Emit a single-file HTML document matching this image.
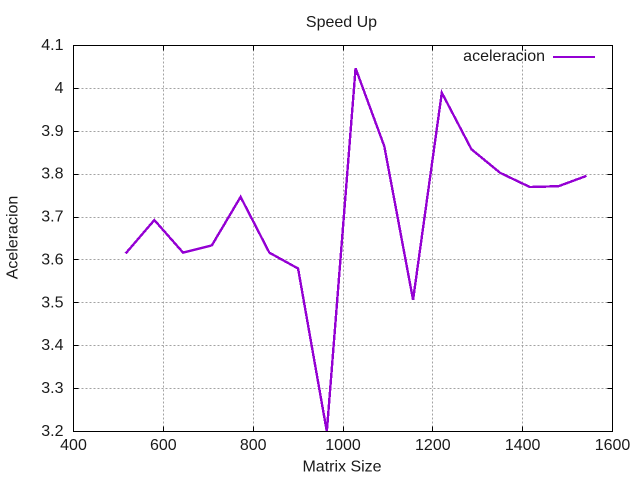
<!DOCTYPE html>
<html>
<head>
<meta charset="utf-8">
<style>
html,body{margin:0;padding:0;background:#fff;width:640px;height:480px;overflow:hidden}
svg{display:block}
text{font-family:"Liberation Sans",sans-serif;fill:#1a1a1a;font-size:16px}
</style>
</head>
<body>
<svg id="chart" width="640" height="480" viewBox="0 0 640 480" xmlns="http://www.w3.org/2000/svg">
<rect width="640" height="480" fill="#fff"/>
<text x="341.5" y="27" text-anchor="middle">Speed Up</text>
<text x="342" y="471.5" text-anchor="middle">Matrix Size</text>
<text transform="translate(17.5,237.5) rotate(-90)" text-anchor="middle">Aceleracion</text>
<g id="grid"></g>
<g id="ticks"></g>
<g id="labels"></g>
<clipPath id="plot-clip"><rect x="73" y="45" width="540" height="387"/></clipPath>
<polyline id="series" fill="none" stroke="#9400d3" stroke-width="2.4" stroke-linejoin="miter" shape-rendering="crispEdges" clip-path="url(#plot-clip)"></polyline>
<rect x="73.5" y="45.5" width="539" height="386" fill="none" stroke="#000" stroke-width="1"/>
<text x="545" y="61" text-anchor="end">aceleracion</text>
<line x1="553" y1="57" x2="595" y2="57" stroke="#9400d3" stroke-width="2"/>
</svg>
<script>
const matrixSizes = [516,580,644,708,772,836,900,964,1028,1092,1156,1220,1286,1350,1416,1480,1542];
const aceleracion = [3.615,3.693,3.617,3.634,3.747,3.617,3.58,3.2,4.047,3.865,3.507,3.99,3.858,3.803,3.77,3.772,3.796];
const xTickValues = [400,600,800,1000,1200,1400,1600];
const yTickValues = [3.2,3.3,3.4,3.5,3.6,3.7,3.8,3.9,4,4.1];
const xDomain = [400,1600];
const yDomain = [3.2,4.1];

const NS = 'http://www.w3.org/2000/svg';
const plot = {left:73.5,right:612.5,top:45.5,bottom:431.5};
function xScale(v){return plot.left+(v-xDomain[0])/(xDomain[1]-xDomain[0])*(plot.right-plot.left);}
function yScale(v){return plot.bottom-(v-yDomain[0])/(yDomain[1]-yDomain[0])*(plot.bottom-plot.top);}
function snap(v){return Math.floor(v)+0.5;}
const gridG=document.getElementById('grid');
const tickG=document.getElementById('ticks');
const labelG=document.getElementById('labels');
function addLine(parent,x1,y1,x2,y2,stroke,dash){
  const l=document.createElementNS(NS,'line');
  l.setAttribute('x1',x1);l.setAttribute('y1',y1);l.setAttribute('x2',x2);l.setAttribute('y2',y2);
  l.setAttribute('stroke',stroke);l.setAttribute('stroke-width','1');
  if(dash)l.setAttribute('stroke-dasharray',dash);
  return parent.appendChild(l);
}
function addLabel(x,y,anchor,str){
  const t=document.createElementNS(NS,'text');
  t.setAttribute('x',x);t.setAttribute('y',y);t.setAttribute('text-anchor',anchor);
  t.textContent=str;
  return labelG.appendChild(t);
}
xTickValues.forEach(function(v){
  const x=snap(xScale(v));
  if(v>xDomain[0]&&v<xDomain[1]){
    const g=addLine(gridG,x,plot.top,x,plot.bottom,'#a3a3a3','2 2');
    
    
  }
  const t1=addLine(tickG,x,plot.bottom,x,plot.bottom-5,'#000');
  
  
  const t2=addLine(tickG,x,plot.top,x,plot.top+5,'#000');
  
  
  const lab=addLabel(xScale(v),450,'middle',String(v));
  
  
});
yTickValues.forEach(function(v){
  const y=snap(yScale(v));
  if(v>yDomain[0]&&v<yDomain[1]){
    const g=addLine(gridG,plot.left,y,plot.right,y,'#a3a3a3','2 2');
    
    
  }
  const t1=addLine(tickG,plot.left,y,plot.left+5,y,'#000');
  
  
  const t2=addLine(tickG,plot.right,y,plot.right-5,y,'#000');
  
  
  const lab=addLabel(63.5,yScale(v)+4.5,'end',String(v));
  
  
});
document.getElementById('series').setAttribute('points',
  matrixSizes.map(function(m,i){return xScale(m).toFixed(2)+','+yScale(aceleracion[i]).toFixed(2);}).join(' '));
</script>
</body>
</html>
